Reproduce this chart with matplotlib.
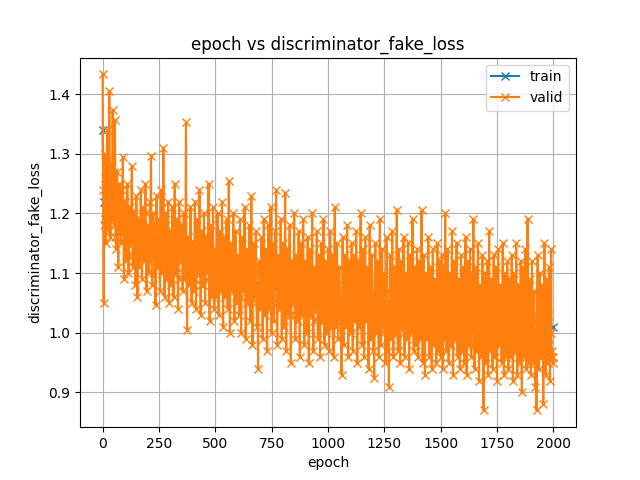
import numpy as np
import matplotlib
matplotlib.use("Agg")
import matplotlib.pyplot as plt

# valid loss, every 5 epochs (one row = 100 epochs)
valid_loss = [
    1.433, 1.05, 1.30, 1.15, 1.34, 1.19, 1.405, 1.16, 1.28, 1.373, 1.18, 1.356, 1.14, 1.27, 1.11, 1.25, 1.17, 1.24, 1.294, 1.09,
    1.22, 1.12, 1.25, 1.10, 1.21, 1.15, 1.28, 1.11, 1.20, 1.08, 1.23, 1.06, 1.19, 1.13, 1.24, 1.09, 1.21, 1.12, 1.25, 1.07,
    1.18, 1.10, 1.22, 1.297, 1.08, 1.20, 1.13, 1.047, 1.23, 1.11, 1.19, 1.07, 1.24, 1.12, 1.31, 1.06, 1.20, 1.09, 1.22, 1.05,
    1.17, 1.08, 1.21, 1.06, 1.25, 1.10, 1.19, 1.04, 1.22, 1.12, 1.18, 1.07, 1.20, 1.09, 1.353, 1.005, 1.16, 1.08, 1.21, 1.05,
    1.15, 1.07, 1.22, 1.04, 1.19, 1.10, 1.24, 1.03, 1.17, 1.08, 1.20, 1.05, 1.16, 1.11, 1.25, 1.02, 1.18, 1.06, 1.21, 1.04,
    1.14, 1.06, 1.20, 1.03, 1.17, 1.09, 1.22, 1.01, 1.16, 1.07, 1.19, 1.04, 1.255, 1.00, 1.15, 1.08, 1.20, 1.02, 1.17, 1.05,
    1.13, 1.03, 1.19, 1.00, 1.16, 1.07, 1.21, 0.99, 1.14, 1.05, 1.18, 1.02, 1.23, 0.98, 1.15, 1.06, 1.17, 1.01, 0.94, 1.12,
    1.04, 1.16, 0.99, 1.19, 1.03, 1.14, 0.97, 1.18, 1.05, 1.21, 1.00, 1.15, 1.02, 1.17, 1.24, 0.98, 1.13, 1.04, 1.19, 0.99,
    1.15, 1.01, 1.235, 0.97, 1.14, 1.03, 1.18, 0.95, 1.12, 1.05, 1.20, 0.99, 1.13, 1.02, 1.17, 0.96, 1.15, 1.04, 1.19, 0.98,
    1.12, 1.00, 1.16, 0.95, 1.14, 1.03, 1.20, 0.97, 1.11, 1.04, 1.17, 0.99, 1.13, 0.96, 1.15, 1.02, 1.19, 0.98, 1.12, 1.00,
    1.14, 0.97, 1.17, 1.01, 1.13, 0.96, 1.21, 1.03, 1.15, 0.99, 1.11, 1.04, 0.93, 1.16, 0.98, 1.13, 1.02, 1.18, 0.96, 1.12,
    1.00, 1.15, 0.97, 1.13, 1.03, 1.17, 0.95, 1.12, 1.01, 1.20, 0.98, 1.14, 0.96, 1.16, 1.02, 1.11, 0.94, 1.18, 0.99, 1.13,
    0.97, 0.925, 1.15, 1.00, 1.12, 0.96, 1.19, 0.98, 1.14, 1.01, 1.10, 0.95, 1.16, 0.97, 0.91, 1.13, 0.99, 1.17, 0.96, 1.11,
    1.00, 1.205, 0.97, 1.14, 0.95, 1.12, 1.01, 1.16, 0.96, 1.10, 0.99, 1.15, 0.94, 1.13, 1.00, 1.19, 0.97, 1.11, 0.98, 1.14,
    0.96, 1.12, 0.99, 1.205, 0.95, 1.13, 0.93, 1.10, 1.00, 1.16, 0.96, 1.11, 0.94, 1.14, 0.98, 1.09, 0.95, 1.15, 0.97, 1.12,
    0.96, 1.13, 0.94, 1.11, 1.20, 0.97, 1.14, 0.95, 1.10, 0.98, 1.17, 0.93, 1.12, 0.99, 1.15, 0.96, 1.09, 0.94, 1.13, 0.97,
    1.11, 0.95, 1.16, 0.93, 1.12, 0.98, 1.14, 0.96, 1.10, 1.19, 0.94, 1.11, 0.97, 1.15, 0.92, 1.08, 0.96, 1.13, 0.87, 1.10,
    0.95, 1.12, 0.93, 1.17, 0.97, 1.09, 0.94, 1.13, 0.96, 1.11, 0.92, 1.14, 0.98, 1.08, 0.95, 1.15, 0.93, 1.10, 0.96, 1.12,
    0.94, 1.09, 0.96, 1.13, 0.92, 1.10, 0.97, 1.15, 0.93, 1.08, 0.95, 1.12, 0.90, 1.11, 0.96, 1.14, 0.94, 1.19, 0.95, 1.09,
    0.93, 1.12, 0.95, 1.07, 0.91, 0.87, 1.13, 0.94, 1.10, 0.96, 1.08, 0.88, 1.15, 0.93, 1.09, 0.95, 1.11, 0.92, 1.14, 0.97,
    0.96,
]
# in-between epochs (2, 7, 12, ...), the dense core of the band
valid_loss_mid = [
    1.24, 1.18, 1.26, 1.21, 1.29, 1.17, 1.23, 1.25, 1.19, 1.22, 1.27, 1.16, 1.21, 1.18, 1.24, 1.20, 1.15, 1.22, 1.19, 1.17,
    1.18, 1.14, 1.19, 1.13, 1.17, 1.20, 1.15, 1.12, 1.18, 1.16, 1.14, 1.19, 1.11, 1.17, 1.15, 1.18, 1.13, 1.16, 1.20, 1.14,
    1.15, 1.12, 1.17, 1.13, 1.10, 1.16, 1.14, 1.18, 1.11, 1.15, 1.13, 1.17, 1.10, 1.14, 1.16, 1.12, 1.18, 1.13, 1.11, 1.15,
    1.12, 1.15, 1.10, 1.14, 1.16, 1.11, 1.13, 1.09, 1.15, 1.12, 1.17, 1.10, 1.14, 1.11, 1.13, 1.16, 1.09, 1.12, 1.15, 1.11,
    1.11, 1.14, 1.09, 1.13, 1.10, 1.15, 1.12, 1.08, 1.14, 1.11, 1.13, 1.09, 1.16, 1.10, 1.12, 1.14, 1.08, 1.13, 1.11, 1.10,
    1.09, 1.12, 1.08, 1.11, 1.13, 1.07, 1.10, 1.12, 1.06, 1.11, 1.09, 1.13, 1.08, 1.10, 1.12, 1.07, 1.11, 1.09, 1.06, 1.10,
    1.08, 1.11, 1.06, 1.10, 1.07, 1.12, 1.09, 1.05, 1.10, 1.08, 1.11, 1.06, 1.09, 1.12, 1.07, 1.10, 1.05, 1.08, 1.11, 1.07,
    1.07, 1.10, 1.05, 1.09, 1.11, 1.06, 1.08, 1.04, 1.10, 1.07, 1.09, 1.05, 1.11, 1.08, 1.06, 1.09, 1.04, 1.07, 1.10, 1.06,
    1.06, 1.09, 1.04, 1.08, 1.05, 1.10, 1.07, 1.03, 1.09, 1.06, 1.08, 1.04, 1.07, 1.10, 1.05, 1.08, 1.03, 1.06, 1.09, 1.05,
    1.05, 1.08, 1.03, 1.07, 1.09, 1.04, 1.06, 1.02, 1.08, 1.05, 1.07, 1.03, 1.09, 1.06, 1.04, 1.07, 1.02, 1.05, 1.08, 1.04,
    1.04, 1.07, 1.02, 1.06, 1.03, 1.08, 1.05, 1.01, 1.07, 1.04, 1.06, 1.02, 1.05, 1.08, 1.03, 1.06, 1.01, 1.04, 1.07, 1.03,
    1.06, 1.03, 1.07, 1.02, 1.05, 1.08, 1.04, 1.01, 1.06, 1.03, 1.07, 1.05, 1.02, 1.06, 1.04, 1.08, 1.03, 1.05, 1.01, 1.06,
    1.03, 1.06, 1.01, 1.05, 1.07, 1.02, 1.04, 1.00, 1.06, 1.03, 1.05, 1.01, 1.07, 1.04, 1.02, 1.05, 1.00, 1.03, 1.06, 1.02,
    1.05, 1.02, 1.06, 1.01, 1.04, 1.07, 1.03, 1.00, 1.05, 1.02, 1.06, 1.04, 1.01, 1.05, 1.03, 1.07, 1.02, 1.04, 1.00, 1.05,
    1.02, 1.05, 1.00, 1.04, 1.06, 1.01, 1.03, 0.99, 1.05, 1.02, 1.04, 1.00, 1.06, 1.03, 1.01, 1.04, 0.99, 1.02, 1.05, 1.01,
    1.03, 1.00, 1.04, 0.99, 1.02, 1.05, 1.01, 0.98, 1.03, 1.00, 1.04, 1.02, 0.99, 1.03, 1.01, 1.05, 1.00, 1.02, 0.98, 1.03,
    1.01, 1.04, 0.99, 1.03, 1.05, 1.00, 1.02, 0.98, 1.04, 1.01, 1.03, 0.99, 1.05, 1.02, 1.00, 1.03, 0.98, 1.01, 1.04, 1.00,
    1.02, 0.99, 1.03, 0.98, 1.01, 1.04, 1.00, 0.97, 1.02, 0.99, 1.03, 1.01, 0.98, 1.02, 1.00, 1.04, 0.99, 1.01, 0.97, 1.02,
    1.00, 1.03, 0.98, 1.02, 1.04, 0.99, 1.01, 0.97, 1.03, 1.00, 1.02, 0.98, 1.04, 1.01, 0.99, 1.02, 0.97, 1.00, 1.03, 0.99,
    1.01, 0.98, 1.02, 0.97, 1.00, 1.03, 0.99, 0.96, 1.01, 0.98, 1.02, 1.00, 0.97, 1.01, 0.99, 1.03, 0.98, 1.00, 0.96, 0.95,
]

# train loss, mostly hidden under valid
train_epoch = [0, 5, 10, 15, 50, 100, 200, 300, 400, 500, 600, 700, 800, 900, 1000,
               1100, 1200, 1300, 1400, 1500, 1600, 1700, 1800, 1900, 2000]
train_loss = [1.34, 1.22, 1.19, 1.27, 1.20, 1.16, 1.14, 1.13, 1.12, 1.11, 1.09, 1.08, 1.07, 1.06, 1.05,
              1.05, 1.04, 1.04, 1.03, 1.02, 1.02, 1.01, 1.01, 1.00, 1.01]

# merge both valid grids into one epoch-ordered series
ep = np.concatenate([np.arange(0, 2001, 5), np.arange(2, 2000, 5)])
vals = np.concatenate([valid_loss, valid_loss_mid])
order = np.argsort(ep)
valid_epoch = ep[order]
valid_vals = vals[order]

plt.figure(figsize=(6.4, 4.8), dpi=100)
plt.plot(train_epoch, train_loss, marker="x", label="train")
plt.plot(valid_epoch, valid_vals, marker="x", label="valid")
plt.title("epoch vs discriminator_fake_loss")
plt.xlabel("epoch")
plt.ylabel("discriminator_fake_loss")
plt.grid(True)
plt.legend()
plt.savefig("out.png")
